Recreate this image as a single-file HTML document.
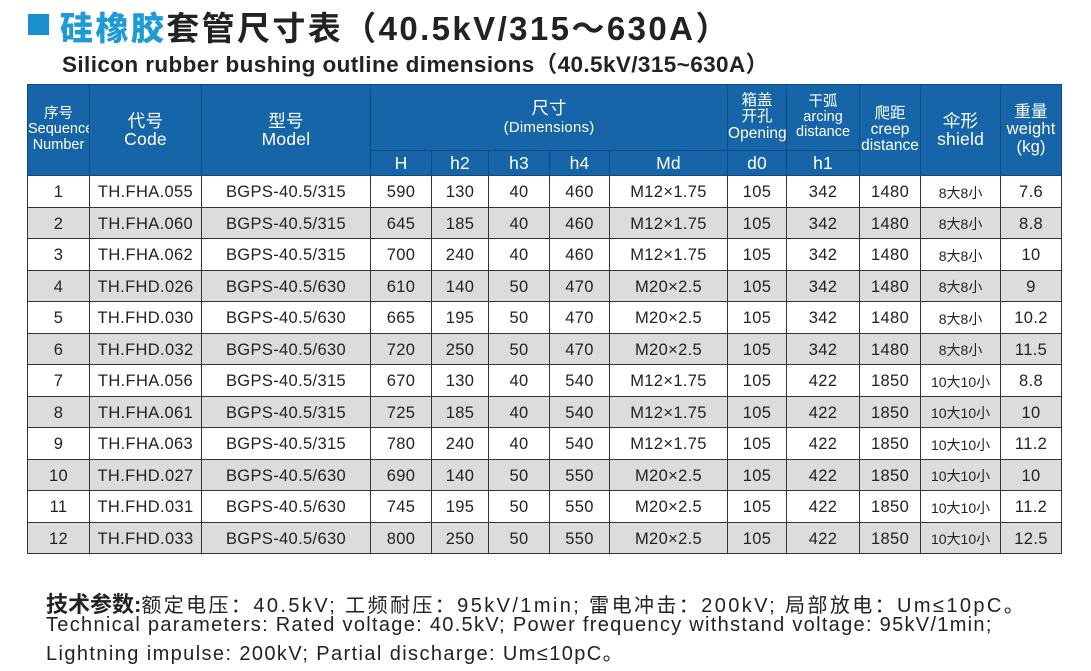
<!DOCTYPE html>
<html><head><meta charset="utf-8"><style>
body{margin:0;width:1091px;height:671px;background:#fff;font-family:"Liberation Sans","Noto Sans CJK SC",sans-serif;position:relative;overflow:hidden;color:#222}
.sq{position:absolute;left:28px;top:14px;width:21px;height:21px;background:#1a8fd0}
.t1{position:absolute;left:60px;top:2px;font-size:33px;font-weight:bold;white-space:nowrap;letter-spacing:2.4px}
.t1 b{color:#1e9ad6}
.t2{position:absolute;left:62px;top:47px;font-size:22.5px;font-weight:bold;white-space:nowrap;color:#222;letter-spacing:0.4px}
table{position:absolute;left:27px;top:84px;border-collapse:collapse;table-layout:fixed;width:1034px}
td,th{border:1px solid #333;text-align:center;padding:0;font-size:16.5px;white-space:nowrap;overflow:hidden;letter-spacing:0.35px}
td{padding-top:3px}
th{background:#1565a8;color:#fff;font-weight:normal;border-color:#0d4a80;line-height:1.05;font-size:17.5px;letter-spacing:0.2px}
tbody tr{height:31.5px}
tbody tr:nth-child(even) td{background:#dcdcdc}
th.sm{font-size:14.5px;letter-spacing:0}
td.sm{font-size:14px;letter-spacing:0}
.f{position:absolute;left:46px;font-size:20px;white-space:nowrap;color:#222}
</style></head><body>
<div class="sq"></div>
<div class="t1"><b>硅橡胶</b>套管尺寸表（40.5kV/315～630A）</div>
<div class="t2">Silicon rubber bushing outline dimensions（40.5kV/315~630A）</div>
<table>
<colgroup><col style="width:62px"><col style="width:112px"><col style="width:169px"><col style="width:61px"><col style="width:57px"><col style="width:61px"><col style="width:60px"><col style="width:118px"><col style="width:59px"><col style="width:73px"><col style="width:61px"><col style="width:80px"><col style="width:61px"></colgroup>
<thead>
<tr style="height:66px"><th rowspan="2" class="sm">序号<br>Sequence<br>Number</th><th rowspan="2">代号<br>Code</th><th rowspan="2">型号<br>Model</th><th colspan="5">尺寸<br><span style="font-size:15px">(Dimensions)</span></th><th class="sm" style="font-size:15.5px">箱盖<br>开孔<br>Opening</th><th class="sm">干弧<br>arcing<br>distance</th><th rowspan="2" class="sm" style="font-size:15.5px">爬距<br>creep<br>distance</th><th rowspan="2">伞形<br>shield</th><th rowspan="2" style="font-size:16.5px">重量<br>weight<br>(kg)</th></tr>
<tr style="height:25px"><th>H</th><th>h2</th><th>h3</th><th>h4</th><th>Md</th><th>d0</th><th>h1</th></tr>
</thead>
<tbody>
<tr><td>1</td><td>TH.FHA.055</td><td>BGPS-40.5/315</td><td>590</td><td>130</td><td>40</td><td>460</td><td>M12×1.75</td><td>105</td><td>342</td><td>1480</td><td class="sm">8大8小</td><td>7.6</td></tr>
<tr><td>2</td><td>TH.FHA.060</td><td>BGPS-40.5/315</td><td>645</td><td>185</td><td>40</td><td>460</td><td>M12×1.75</td><td>105</td><td>342</td><td>1480</td><td class="sm">8大8小</td><td>8.8</td></tr>
<tr><td>3</td><td>TH.FHA.062</td><td>BGPS-40.5/315</td><td>700</td><td>240</td><td>40</td><td>460</td><td>M12×1.75</td><td>105</td><td>342</td><td>1480</td><td class="sm">8大8小</td><td>10</td></tr>
<tr><td>4</td><td>TH.FHD.026</td><td>BGPS-40.5/630</td><td>610</td><td>140</td><td>50</td><td>470</td><td>M20×2.5</td><td>105</td><td>342</td><td>1480</td><td class="sm">8大8小</td><td>9</td></tr>
<tr><td>5</td><td>TH.FHD.030</td><td>BGPS-40.5/630</td><td>665</td><td>195</td><td>50</td><td>470</td><td>M20×2.5</td><td>105</td><td>342</td><td>1480</td><td class="sm">8大8小</td><td>10.2</td></tr>
<tr><td>6</td><td>TH.FHD.032</td><td>BGPS-40.5/630</td><td>720</td><td>250</td><td>50</td><td>470</td><td>M20×2.5</td><td>105</td><td>342</td><td>1480</td><td class="sm">8大8小</td><td>11.5</td></tr>
<tr><td>7</td><td>TH.FHA.056</td><td>BGPS-40.5/315</td><td>670</td><td>130</td><td>40</td><td>540</td><td>M12×1.75</td><td>105</td><td>422</td><td>1850</td><td class="sm">10大10小</td><td>8.8</td></tr>
<tr><td>8</td><td>TH.FHA.061</td><td>BGPS-40.5/315</td><td>725</td><td>185</td><td>40</td><td>540</td><td>M12×1.75</td><td>105</td><td>422</td><td>1850</td><td class="sm">10大10小</td><td>10</td></tr>
<tr><td>9</td><td>TH.FHA.063</td><td>BGPS-40.5/315</td><td>780</td><td>240</td><td>40</td><td>540</td><td>M12×1.75</td><td>105</td><td>422</td><td>1850</td><td class="sm">10大10小</td><td>11.2</td></tr>
<tr><td>10</td><td>TH.FHD.027</td><td>BGPS-40.5/630</td><td>690</td><td>140</td><td>50</td><td>550</td><td>M20×2.5</td><td>105</td><td>422</td><td>1850</td><td class="sm">10大10小</td><td>10</td></tr>
<tr><td>11</td><td>TH.FHD.031</td><td>BGPS-40.5/630</td><td>745</td><td>195</td><td>50</td><td>550</td><td>M20×2.5</td><td>105</td><td>422</td><td>1850</td><td class="sm">10大10小</td><td>11.2</td></tr>
<tr><td>12</td><td>TH.FHD.033</td><td>BGPS-40.5/630</td><td>800</td><td>250</td><td>50</td><td>550</td><td>M20×2.5</td><td>105</td><td>422</td><td>1850</td><td class="sm">10大10小</td><td>12.5</td></tr>
</tbody></table>
<div class="f" style="top:587px;letter-spacing:2.4px"><b style="font-size:22px;letter-spacing:0">技术参数:</b>额定电压：40.5kV; 工频耐压：95kV/1min; 雷电冲击：200kV; 局部放电：Um≤10pC。</div>
<div class="f" style="top:614px;letter-spacing:1.3px">Technical parameters: Rated voltage: 40.5kV; Power frequency withstand voltage: 95kV/1min;</div>
<div class="f" style="top:637px;letter-spacing:1.4px">Lightning impulse: 200kV; Partial discharge: Um≤10pC。</div>
</body></html>
